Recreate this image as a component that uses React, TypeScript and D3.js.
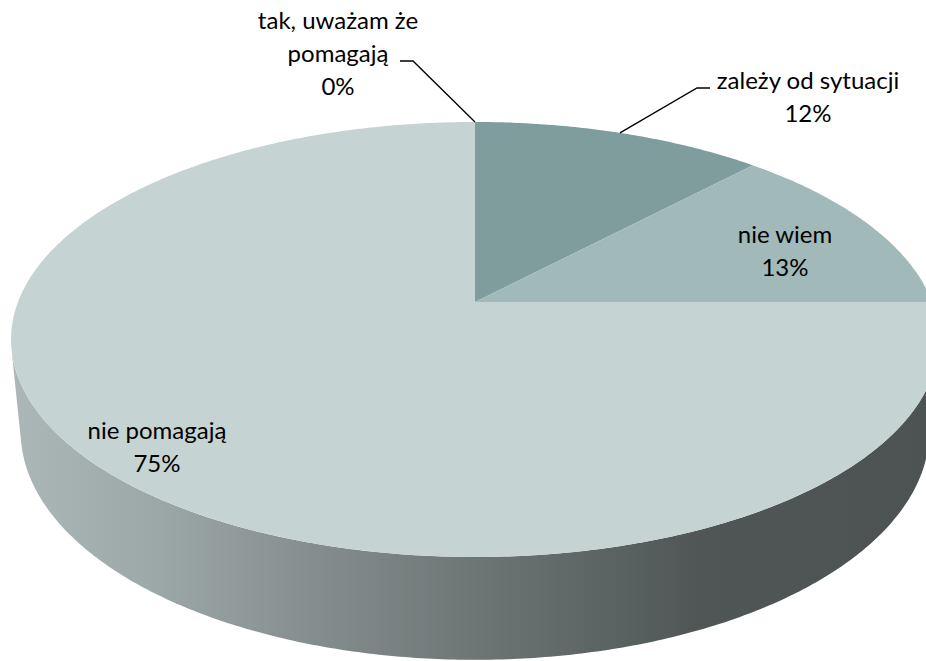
import React from 'react';
import * as d3 from 'd3';

const categories = ['tak, uważam że pomagają', 'zależy od sytuacji', 'nie wiem', 'nie pomagają'];
const values = [0, 12, 13, 75];
const percentLabels = ['0%', '12%', '13%', '75%'];
const nameLines = [['tak, uważam że', 'pomagają'], ['zależy od sytuacji'], ['nie wiem'], ['nie pomagają']];
const topColors = ['#8fa9a9', '#7f9d9d', '#a1b9b9', '#c5d4d3'];

// layout
const W = 926, H = 661;
const CX = 475, CY = 302;
const K = 457;      // projected radius (px)
const U = 0.1724;   // perspective strength
const SIN = 0.4618; // tilt
const COS = Math.sqrt(1 - SIN * SIN);
const RD = U / COS;
const DEPTH = 0.228;
const FONT = 'Lato, "Open Sans", sans-serif';
const FS = 24;
const LH = 33;

// label anchors (center x, first baseline y) and leader elbows
const labelPos = [
  { x: 338, y: 29, leader: [[400, 61], [413, 61]] },
  { x: 808, y: 89, leader: [[710, 88], [697, 88]] },
  { x: 785, y: 243, leader: null },
  { x: 157, y: 439, leader: null },
];

function proj(phi: number, r = 1, z = 0): [number, number] {
  const X = r * Math.sin(phi), Y = -r * Math.cos(phi);
  const yc = -Y * SIN + z * COS;
  const d = 1 - RD * (Y * COS + z * SIN);
  return [CX + (K * X) / d, CY - (K * yc) / d];
}

function arcPts(a0: number, a1: number, z = 0): [number, number][] {
  const n = Math.max(2, Math.ceil(Math.abs(a1 - a0) / 0.01));
  const s = d3.scaleLinear().domain([0, n]).range([a0, a1]);
  return d3.range(n + 1).map((i) => proj(s(i), 1, z));
}

export default function App() {
  const pie = d3.pie<number>().sort(null).value((d) => d).startAngle(0).endAngle(2 * Math.PI);
  const arcs = pie(values);
  const line = d3.line();

  const phiS = Math.acos(-RD / COS);
  const top = arcPts(phiS, 2 * Math.PI - phiS, 0);
  const bot = arcPts(2 * Math.PI - phiS, phiS, -DEPTH);
  const sidePath = line([...top, ...bot])! + 'Z';
  const xL = d3.min(bot, (p) => p[0])!;
  const xR = d3.max(bot, (p) => p[0])!;

  return (
    <svg width={W} height={H} style={{ position: 'absolute', left: 0, top: 0, background: '#fff' }}>
      <defs>
        <linearGradient id="side" gradientUnits="userSpaceOnUse" x1={xL} y1={0} x2={xR} y2={0}>
          <stop offset="0" stopColor="#abb6b6" />
          <stop offset="0.15" stopColor="#9ca7a7" />
          <stop offset="0.32" stopColor="#858e8e" />
          <stop offset="0.54" stopColor="#687070" />
          <stop offset="0.75" stopColor="#505656" />
          <stop offset="1" stopColor="#4d5353" />
        </linearGradient>
      </defs>
      <path d={sidePath} fill="url(#side)" />
      {arcs.map((a, i) => {
        if (a.endAngle - a.startAngle <= 0) return null;
        const pts = [proj(0, 0, 0), ...arcPts(a.startAngle, a.endAngle, 0)];
        return <path key={categories[i]} d={line(pts)! + 'Z'} fill={topColors[i]} />;
      })}
      {arcs.map((a, i) => {
        const lp = labelPos[i];
        if (!lp.leader) return null;
        const mid = (a.startAngle + a.endAngle) / 2;
        const end = proj(mid, 1, 0);
        return (
          <path key={'l' + i} d={line([...(lp.leader as [number, number][]), end])!} fill="none" stroke="#000" strokeWidth={1.3} />
        );
      })}
      {arcs.map((a, i) => {
        const lp = labelPos[i];
        const lines = [...nameLines[i], percentLabels[i]];
        return (
          <text key={'t' + i} fontFamily={FONT} fontSize={FS} fill="#000" textAnchor="middle">
            {lines.map((t, j) => (
              <tspan key={j} x={lp.x} y={lp.y + j * LH}>{t}</tspan>
            ))}
          </text>
        );
      })}
    </svg>
  );
}
